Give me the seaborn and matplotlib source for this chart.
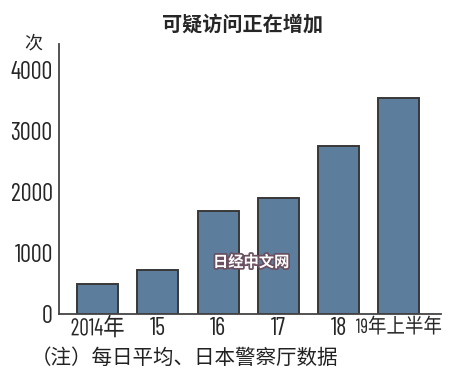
import matplotlib
matplotlib.use("Agg")
import matplotlib.pyplot as plt
import matplotlib.patheffects as pe
from matplotlib.transforms import Affine2D
import seaborn as sns
import pandas as pd

categories = ["2014年", "15", "16", "17", "18", "19年上半年"]
values = [490, 720, 1690, 1900, 2750, 3540]
yticks = [0, 1000, 2000, 3000, 4000]


class HCompress(pe.AbstractPathEffect):
    """Draw text horizontally squeezed (condensed look)."""
    def __init__(self, sx=0.72, anchor="center"):
        super().__init__()
        self.sx = sx
        self.anchor = anchor

    def draw_path(self, renderer, gc, tpath, affine, rgbFace=None):
        ext = tpath.get_extents()
        if self.anchor == "right":
            cx = ext.x1
        elif self.anchor == "left":
            cx = ext.x0
        else:
            cx = (ext.x0 + ext.x1) / 2
        t = Affine2D().translate(-cx, 0).scale(self.sx, 1).translate(cx, 0) + affine
        renderer.draw_path(gc, tpath, t, rgbFace)


sns.set_style("white")
plt.rcParams['font.family'] = ['Noto Sans CJK SC', 'DejaVu Sans']
num_font = ['Barlow Condensed', 'Noto Sans CJK SC', 'DejaVu Sans']

df = pd.DataFrame({"year": categories, "count": values})

fig = plt.figure(figsize=(4.5, 3.88), dpi=100)
ax = fig.add_axes([0.131, 0.191, 0.849, 0.696])
sns.barplot(data=df, x="year", y="count", color="#5d7d9c", saturation=1,
            width=0.68, edgecolor="#383838", linewidth=1.4, ax=ax)

ax.set_xlim(-0.64, 5.70)
ax.set_ylim(0, 4426)
ax.set_yticks(yticks)
ax.set_yticklabels([str(v) for v in yticks], family=num_font, fontsize=17.5)
ax.set_xticks(range(len(categories)))
ax.set_xticklabels(categories, family=num_font, fontsize=17.5)
ax.tick_params(axis='y', direction='in', length=4, width=1, color="#444444", pad=4.5)
ax.tick_params(axis='x', length=0, pad=2.5)
xlabs = ax.get_xticklabels()
xlabs[0].set_path_effects([HCompress(0.88, "center")])
xlabs[-1].set_fontsize(14.8)
xlabs[-1].set_path_effects([HCompress(0.9, "center")])
xlabs[-1].set_x(5.03)
ax.set_xlabel("")
ax.set_ylabel("")
for s in ["top", "right"]:
    ax.spines[s].set_visible(False)
for s in ["left", "bottom"]:
    ax.spines[s].set_color("#444444")
    ax.spines[s].set_linewidth(1.3)

fig.text(0.538, 0.938, "可疑访问正在增加", ha="center", va="center",
         fontsize=14.5, fontweight="bold")
fig.text(0.0744, 0.887, "次", ha="center", va="center", fontsize=13)
fig.text(0.069, 0.077, "（注）每日平均、日本警察厅数据", ha="left", va="center",
         fontsize=14.8, color="#222222")
fig.text(0.558, 0.325, "日经中文网", ha="center", va="center", fontsize=11,
         fontweight="bold", color="white",
         path_effects=[pe.withStroke(linewidth=2.5, foreground="#6a5060")])

fig.savefig("out.png", dpi=100)
